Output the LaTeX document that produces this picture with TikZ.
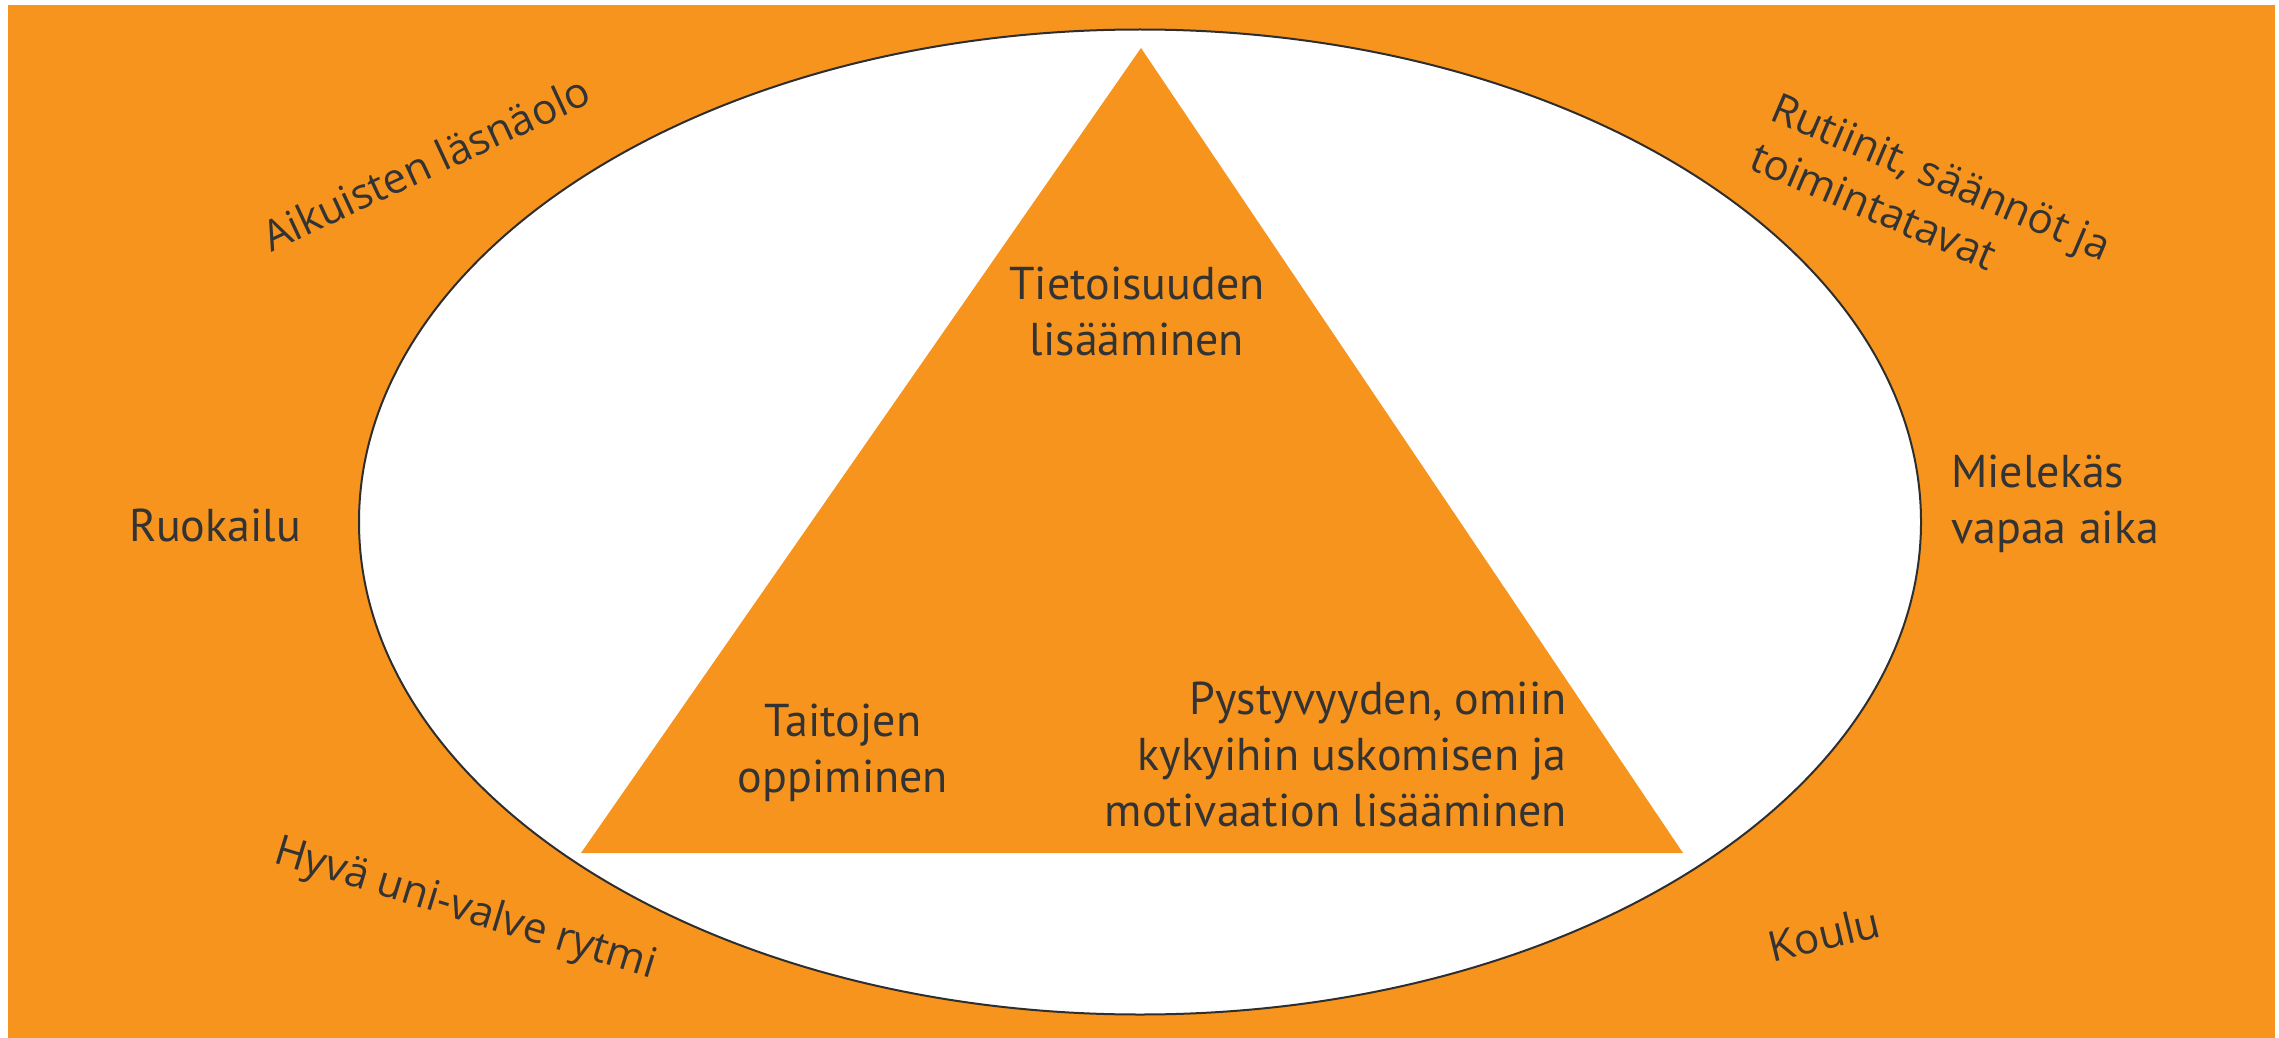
\documentclass[tikz,border=0pt]{standalone}
\usepackage{fontspec}
\usetikzlibrary{shapes.geometric}
\setmainfont{PT Sans}
\newfontfamily\curvedfont{Open Sans}
\definecolor{bgorange}{HTML}{F7941D}
\definecolor{txtgrey}{HTML}{333333}
\definecolor{linegrey}{HTML}{2E2E2E}
\tikzset{
  innertext/.style={text=txtgrey, font=\fontsize{46}{56}\selectfont, inner sep=0pt},
  outertext/.style={text=txtgrey, font=\curvedfont\fontsize{42}{54}\selectfont, inner sep=0pt},
}
\begin{document}
\begin{tikzpicture}[x=1pt,y=-1pt]
\useasboundingbox (0,0) rectangle (2279,1038);
\fill[white] (0,0) rectangle (2279,1038);
\fill[bgorange] (8,5) rectangle (2275,1038);
\node[draw=linegrey, line width=2pt, fill=white, ellipse, minimum width=1562pt, minimum height=985pt, inner sep=0pt] (oval) at (1140,522) {};
\fill[bgorange] (1141,48) coordinate (apex) -- (1683,853) coordinate (br) -- (581,853) coordinate (bl) -- cycle;
\node[innertext, align=center] (tieto) at (1137,311) {Tietoisuuden\\lisääminen};
\node[innertext, align=center] (taito) at (843,753) {Taitojen\\oppiminen};
\node[innertext, align=right, anchor=east] (pysty) at (1567,754) {Pystyvyyden, omiin\\kykyihin uskomisen ja\\motivaation lisääminen};
\node[innertext] (ruoka) at (215,525) {Ruokailu};
\node[innertext, align=left, anchor=west] (miele) at (1951,504) {Mielekäs\\vapaa aika};
\node[outertext, rotate=25] (aikuis) at (426,163) {Aikuisten läsnäolo};
\node[outertext, align=left, rotate=-23] (rutiini) at (1931,201) {Rutiinit, säännöt ja\\toimintatavat};
\node[outertext, rotate=-17] (hyva) at (465,910) {Hyvä uni-valve rytmi};
\node[outertext, rotate=13.5] (koulu) at (1824,934) {Koulu};
\end{tikzpicture}
\end{document}
